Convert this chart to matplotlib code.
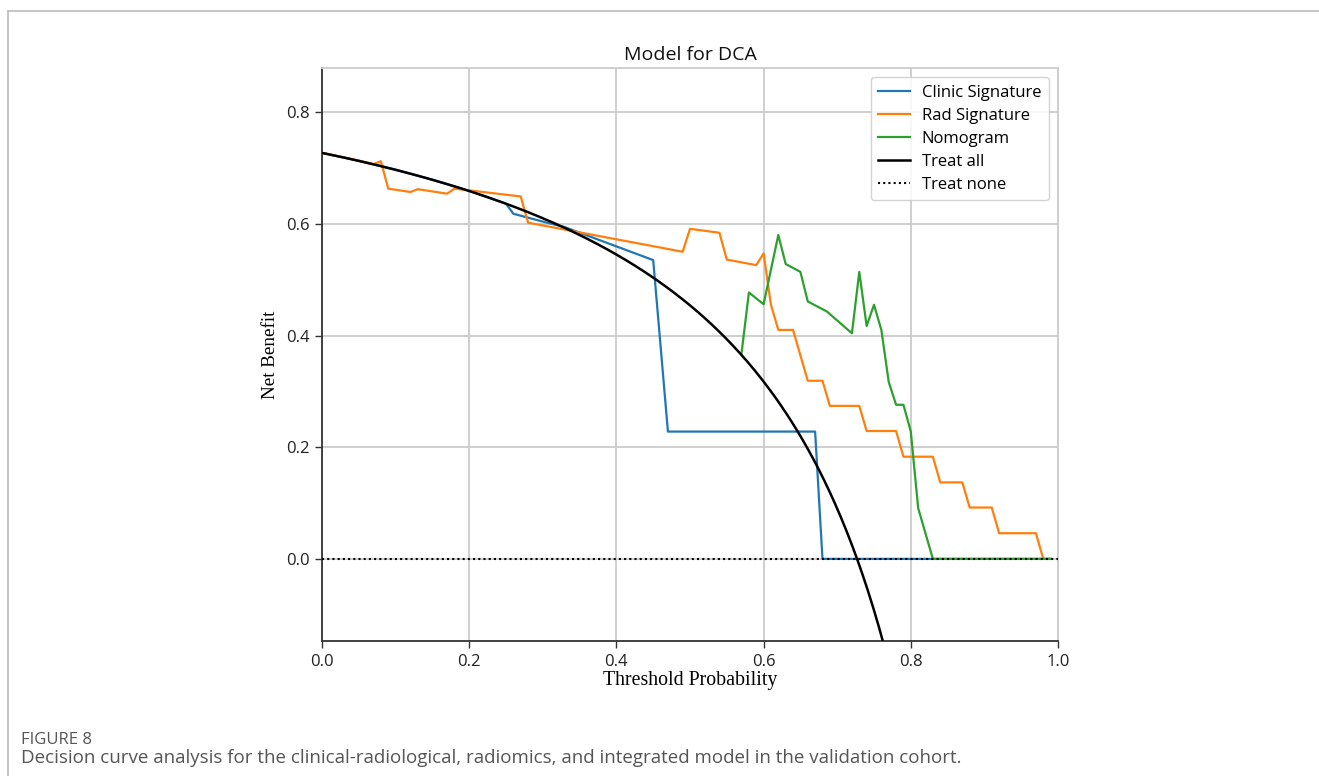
import numpy as np
import matplotlib
matplotlib.use("Agg")
import matplotlib.pyplot as plt
from matplotlib.lines import Line2D

# ---------------- data ----------------
title = "Model for DCA"
xlabel = "Threshold Probability"
ylabel = "Net Benefit"
caption_head = "FIGURE 8"
caption_text = ("Decision curve analysis for the clinical-radiological, radiomics, "
                "and integrated model in the validation cohort.")

prevalence = 0.727  # net benefit of "treat all" at threshold 0

clinic_t = [0.00, 0.05, 0.10, 0.15, 0.20, 0.25, 0.26, 0.30, 0.33, 0.45, 0.47, 0.67, 0.68, 0.99]
clinic_nb = [0.727, 0.713, 0.697, 0.679, 0.659, 0.636, 0.618, 0.604, 0.594, 0.535, 0.228, 0.228, 0.0, 0.0]

rad_t = [0.00, 0.04, 0.07, 0.08, 0.09, 0.12, 0.13, 0.17, 0.18, 0.27, 0.28, 0.49, 0.50, 0.54,
         0.55, 0.59, 0.60, 0.61, 0.62, 0.64, 0.66, 0.68, 0.69, 0.73, 0.74, 0.78, 0.79, 0.83,
         0.84, 0.87, 0.88, 0.91, 0.92, 0.97, 0.98, 0.99]
rad_nb = [0.727, 0.716, 0.707, 0.712, 0.663, 0.657, 0.662, 0.654, 0.663, 0.649, 0.602, 0.550,
          0.591, 0.584, 0.536, 0.526, 0.547, 0.455, 0.410, 0.410, 0.319, 0.319, 0.274, 0.274,
          0.229, 0.229, 0.183, 0.183, 0.137, 0.137, 0.092, 0.092, 0.046, 0.046, 0.0, 0.0]

nomo_t = [0.57, 0.58, 0.60, 0.62, 0.63, 0.65, 0.66, 0.686, 0.72, 0.73, 0.74, 0.75, 0.76,
          0.77, 0.78, 0.79, 0.80, 0.81, 0.83, 0.99]
nomo_nb = [0.368, 0.477, 0.456, 0.580, 0.528, 0.514, 0.461, 0.443, 0.404, 0.514, 0.417,
           0.455, 0.410, 0.317, 0.276, 0.276, 0.228, 0.091, 0.0, 0.0]

xticks = [0.0, 0.2, 0.4, 0.6, 0.8, 1.0]
yticks = [0.0, 0.2, 0.4, 0.6, 0.8]

# ---------------- figure ----------------
W, H = 1319, 776
fig = plt.figure(figsize=(W / 100, H / 100), dpi=100)

ax = fig.add_axes([322 / W, 1 - 641 / H, (1058 - 322) / W, (641 - 68) / H])

c_blue, c_orange, c_green = "#1f77b4", "#ff7f0e", "#2ca02c"

t_all = np.linspace(0, 0.99, 400)
nb_all = prevalence - (1 - prevalence) * t_all / (1 - t_all)

ax.plot(clinic_t, clinic_nb, color=c_blue, lw=1.6, label="Clinic Signature", zorder=3)
ax.plot(rad_t, rad_nb, color=c_orange, lw=1.6, label="Rad Signature", zorder=3)
ax.plot(nomo_t, nomo_nb, color=c_green, lw=1.6, label="Nomogram", zorder=3)
ax.plot(t_all, nb_all, color="black", lw=1.8, label="Treat all", zorder=4)
ax.plot([0, 1], [0, 0], color="black", lw=1.5, ls=(0, (1, 1.5)), label="Treat none", zorder=5)

ax.set_xlim(0, 1.0)
ax.set_ylim(-0.147, 0.879)
ax.set_xticks(xticks)
ax.set_yticks(yticks)
ax.set_xticklabels([f"{v:.1f}" for v in xticks])
ax.set_yticklabels([f"{v:.1f}" for v in yticks])

ax.grid(True, color="#cccccc", lw=1.3)
ax.set_axisbelow(True)
for s in ["top", "right"]:
    ax.spines[s].set_color("#cccccc")
    ax.spines[s].set_linewidth(1.3)
for s in ["left", "bottom"]:
    ax.spines[s].set_color("#333333")
    ax.spines[s].set_linewidth(1.3)
ax.tick_params(axis="both", direction="out", length=5, width=1, color="#333333",
               labelsize=12, labelcolor="#222222", pad=4)
for lab in ax.get_xticklabels() + ax.get_yticklabels():
    lab.set_family("Open Sans")

ax.set_title(title, fontsize=14, family="Open Sans", color="#111111", pad=6)
ax.set_xlabel(xlabel, fontsize=14.3, family="Liberation Serif", labelpad=1)
ax.set_ylabel(ylabel, fontsize=13.8, family="Liberation Serif", labelpad=5)

leg = ax.legend(loc="upper right", prop={"family": "Open Sans", "size": 12},
                frameon=True, framealpha=0.85, edgecolor="#cccccc", fancybox=True,
                handlelength=1.9, handletextpad=0.7, borderpad=0.45, labelspacing=0.42,
                borderaxespad=0.55)

# frame lines of the figure panel
fig.add_artist(Line2D([8 / W, 1.0], [1 - 11 / H, 1 - 11 / H], color="#bbbbbb", lw=1.2))
fig.add_artist(Line2D([8 / W, 8 / W], [0, 1 - 11 / H], color="#bbbbbb", lw=1.2))

fig.text(21 / W, 1 - 740 / H, caption_head, fontsize=12, family="Open Sans",
         color="#555555", va="center", ha="left")
fig.text(21 / W, 1 - 758 / H, caption_text, fontsize=13.5, family="Open Sans",
         color="#555555", va="center", ha="left")

fig.savefig("out.png", dpi=100)
